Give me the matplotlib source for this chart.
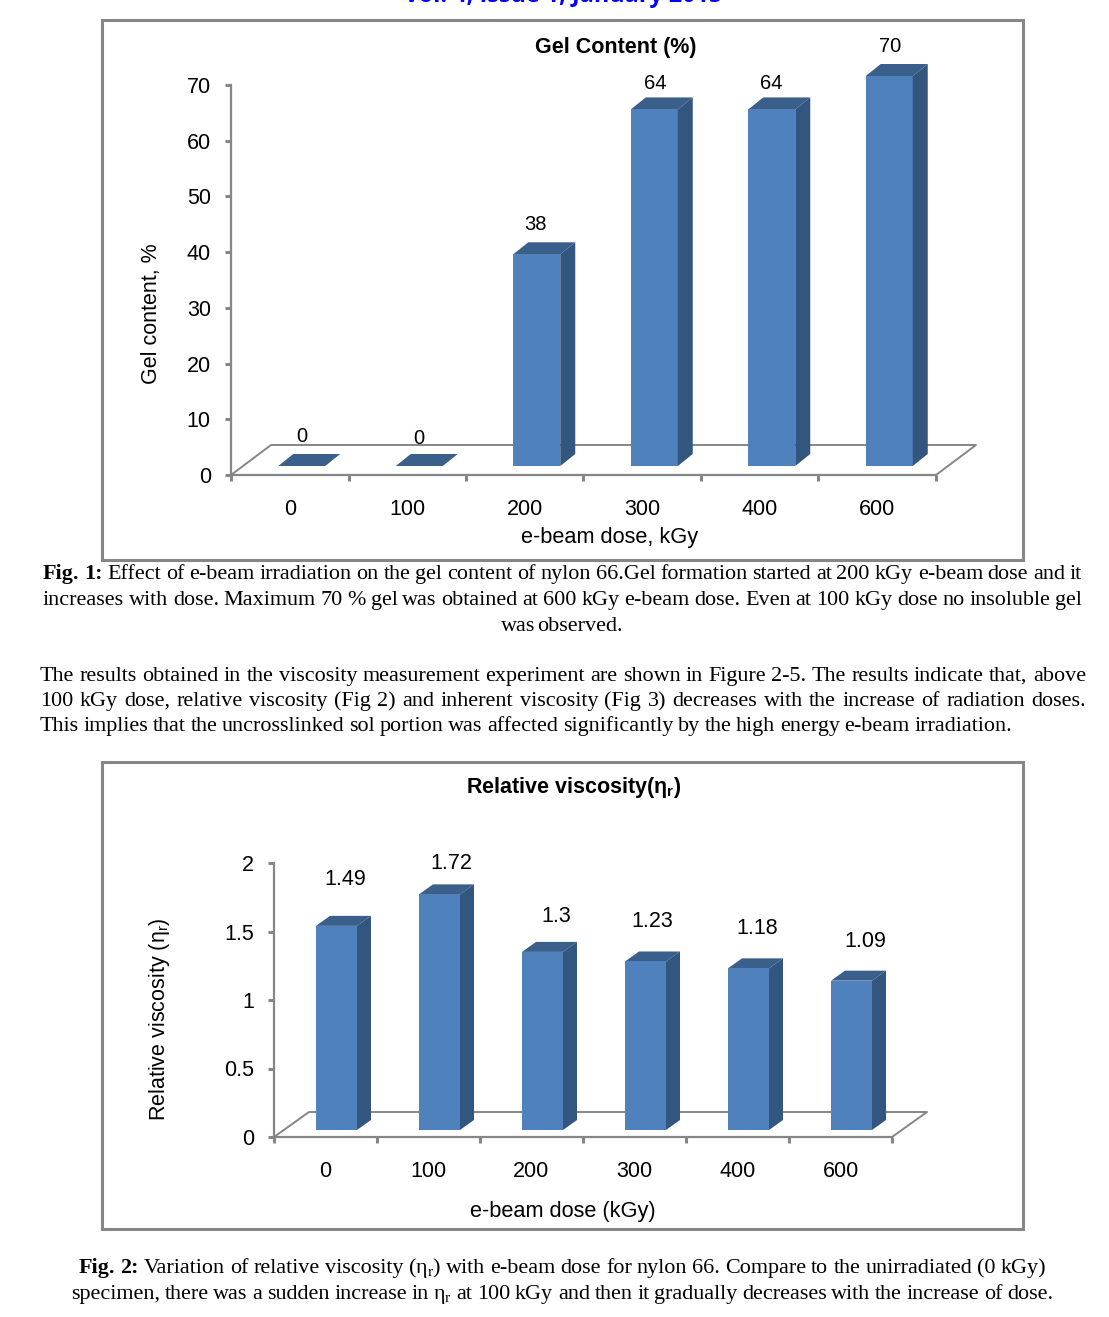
"""
Two 3D-look bar charts from a journal page, with the captions around them.
Everything is placed using pixel positions measured on the 1109x1317 page.
"""

import matplotlib
matplotlib.use('Agg')
import matplotlib.pyplot as plt
from matplotlib.patches import Polygon, Rectangle

# Data
doses = ['0', '100', '200', '300', '400', '600']
gel_content = [0, 0, 38, 64, 64, 70]
gel_ticks = [0, 10, 20, 30, 40, 50, 60, 70]
viscosity = [1.49, 1.72, 1.3, 1.23, 1.18, 1.09]
viscosity_labels = ['1.49', '1.72', '1.3', '1.23', '1.18', '1.09']
viscosity_ticks = [0, 0.5, 1, 1.5, 2]
viscosity_tick_labels = ['0', '0.5', '1', '1.5', '2']

W, H = 1109, 1317
FRONT = '#4f81bd'
SIDE = '#32567e'
TOP = '#3a5f8b'
GRAY = '#868686'

plt.rcParams['font.family'] = ['Liberation Sans', 'DejaVu Sans']
plt.rcParams['mathtext.default'] = 'regular'

fig = plt.figure(figsize=(W / 100, H / 100), dpi=100)


def fx(x):
    return x / W


def fy(y):
    return 1 - y / H


def frame(x0, y0, x1, y1):
    fig.add_artist(Rectangle((fx(x0), fy(y1)), (x1 - x0) / W, (y1 - y0) / H, transform=fig.transFigure,
                             fill=False, edgecolor=GRAY, linewidth=2.2))


def bar_chart(box, values, labels, ticks, tick_labels, ymax, floor, bar, label_gap, label_dx, label_size):
    """
    box is the axis rectangle in page pixels, floor = (dx, dy) of the chart floor,
    bar = (width, shift from category centre, depth dx, depth dy, lift above the axis)
    """
    left, top, right, bottom = box
    ax = fig.add_axes([fx(left), fy(bottom), (right - left) / W, (bottom - top) / H])
    n = len(values)
    ax.set_xlim(0, n)
    ax.set_ylim(0, ymax)
    ax.patch.set_alpha(0)

    # pixels to data units
    ux = n / (right - left)
    uy = ymax / (bottom - top)

    # floor of the chart
    fdx, fdy = floor[0] * ux, floor[1] * uy
    ax.plot([0, fdx, n + fdx, n], [0, fdy, fdy, 0], color=GRAY, lw=1.4, clip_on=False, zorder=1)

    width, shift, ddx, ddy, lift = bar
    bw, bs, dx, dy, base = width * ux, shift * ux, ddx * ux, ddy * uy, lift * uy
    for i, v in enumerate(values):
        x0 = i + 0.5 + bs - bw / 2
        x1 = x0 + bw
        ax.add_patch(Polygon([(x0, base + v), (x1, base + v), (x1 + dx, base + v + dy), (x0 + dx, base + v + dy)],
                             facecolor=TOP, edgecolor='none', clip_on=False, zorder=3))
        if v > 0:
            ax.bar(x0, v, bw, bottom=base, align='edge', color=FRONT, clip_on=False, zorder=3)
            ax.add_patch(Polygon([(x1, base), (x1 + dx, base + dy), (x1 + dx, base + v + dy), (x1, base + v)],
                                 facecolor=SIDE, edgecolor='none', clip_on=False, zorder=3))
        ax.text(i + 0.5 + (shift + label_dx[i]) * ux, base + v + dy + label_gap[i] * uy, labels[i],
                ha='center', va='center', fontsize=label_size, color='black')

    for side in ['top', 'right']:
        ax.spines[side].set_visible(False)
    for side in ['left', 'bottom']:
        ax.spines[side].set_color(GRAY)
        ax.spines[side].set_linewidth(1.6)
    ax.set_yticks(ticks)
    ax.set_yticklabels(tick_labels, fontsize=15.5)
    ax.set_xticks(range(n + 1))
    ax.set_xticklabels([])
    ax.set_xticks([i + 0.5 for i in range(n)], minor=True)
    ax.set_xticklabels(doses, minor=True, fontsize=15.5)
    ax.tick_params(axis='both', which='major', color=GRAY, width=2.2, length=4.5, pad=10)
    ax.tick_params(axis='x', which='minor', length=0, pad=17.5)
    return ax


def justified(line, x0, x1, y, bold_words=0, size=15.9):
    """Write one line word by word so it fills x0..x1, like the justified page text."""
    words = line.split(' ')
    renderer = fig.canvas.get_renderer()
    items = []
    total = 0
    for i, word in enumerate(words):
        t = fig.text(fx(x0), fy(y), word, family=['Liberation Serif', 'DejaVu Serif'], fontsize=size,
                     ha='left', va='baseline', color='black', weight='bold' if i < bold_words else 'normal')
        w = t.get_window_extent(renderer).width
        items.append((t, w))
        total += w
    gap = (x1 - x0 - total) / max(len(words) - 1, 1)
    x = x0
    for t, w in items:
        t.set_x(fx(x))
        x += w + gap


# Cut off running header at the top of the page
fig.text(fx(563), fy(2), 'Vol. 4, Issue 1, January 2015', color='#0000ff', family='Open Sans', weight='bold',
         fontsize=16.8, ha='center', va='baseline')

# Figure 1
frame(102, 20, 1023, 560)
bar_chart((231, 85, 936, 475), gel_content, [str(v) for v in gel_content], gel_ticks,
          [str(v) for v in gel_ticks], 70, (40, 30), (47, 12, 15, 12, 9),
          [18, 16, 18, 14, 14, 17], [0, 0, -1, 1, 0, 1], 14.5)
fig.text(fx(616), fy(48), 'Gel Content (%)', weight='bold', fontsize=15.5, ha='center', va='center')
fig.text(fx(152), fy(314), 'Gel content, %', rotation=90, fontsize=15.5, ha='center', va='center')
fig.text(fx(610), fy(538), 'e-beam dose, kGy', fontsize=15.7, ha='center', va='center')

# Text between the charts
justified('Fig. 1: Effect of e-beam irradiation on the gel content of nylon 66.Gel formation started at 200 kGy '
          'e-beam dose and it', 43, 1082, 579, bold_words=2)
justified('increases with dose. Maximum 70 % gel was obtained at 600 kGy e-beam dose. Even at 100 kGy dose no '
          'insoluble gel', 43, 1082, 605)
justified('was observed.', 501, 623, 631)
justified('The results obtained in the viscosity measurement experiment are shown in Figure 2-5. The results '
          'indicate that, above', 40, 1086, 681)
justified('100 kGy dose, relative viscosity (Fig 2) and inherent viscosity (Fig 3) decreases with the increase of '
          'radiation doses.', 40, 1086, 706)
justified('This implies that the uncrosslinked sol portion was affected significantly by the high energy e-beam '
          'irradiation.', 40, 1012, 731)

# Figure 2
frame(102, 762, 1023, 1229)
bar_chart((274, 863, 892, 1137), viscosity, viscosity_labels, viscosity_ticks, viscosity_tick_labels, 2,
          (35, 25), (41, 11, 14, 10, 7),
          [36, 21, 25, 30, 30, 29], [9, 12, 14, 7, 9, 14], 15.5)
fig.text(fx(574), fy(788), 'Relative viscosity(η$_r$)', weight='bold', fontsize=15.5, ha='center', va='center')
fig.text(fx(160), fy(1019), 'Relative viscosity (η$_r$)', rotation=90, fontsize=15.5, ha='center', va='center')
fig.text(fx(563), fy(1212), 'e-beam dose (kGy)', fontsize=15.7, ha='center', va='center')

justified('Fig. 2: Variation of relative viscosity (η$_r$) with e-beam dose for nylon 66. Compare to the '
          'unirradiated (0 kGy)', 79, 1046, 1273, bold_words=2)
justified('specimen, there was a sudden increase in η$_r$ at 100 kGy and then it gradually decreases with the '
          'increase of dose.', 71, 1053, 1299)

fig.savefig('out.png', dpi=100)
